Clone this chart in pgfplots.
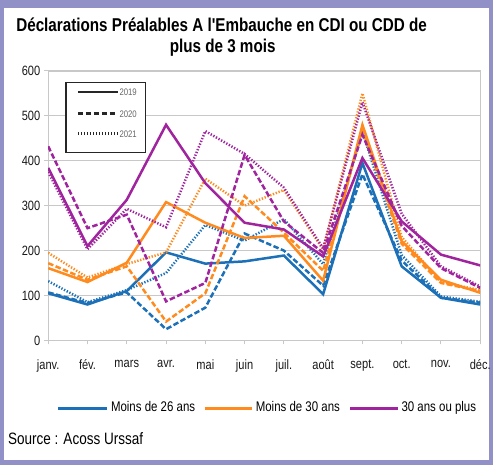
\documentclass[border=0pt]{standalone}
\usepackage{pgfplots}
\usepackage{pgfplotstable}
\pgfplotsset{compat=1.18}
\usepackage{fontspec}
\setmainfont{Liberation Sans}[FakeStretch=0.82, Ligatures=TeXOff]
\definecolor{cblue}{RGB}{28,112,184}
\definecolor{corange}{RGB}{255,138,30}
\definecolor{cpurple}{RGB}{160,36,158}
\definecolor{framec}{RGB}{145,145,200}
\definecolor{gridc}{RGB}{200,200,200}

\pgfplotstableread{
m b19 b20 b21 o19 o20 o21 p19 p20 p21
0 105 107 132 161 172 195 384 432 375
1 80 83 85 130 135 140 210 250 203
2 110 107 112 173 165 170 313 280 293
3 196 25 150 308 42 196 480 87 252
4 171 73 257 262 105 360 350 128 466
5 176 238 222 228 321 300 262 413 415
6 189 200 270 233 240 335 247 265 340
7 103 122 170 133 155 202 187 195 205
8 395 370 465 480 470 550 406 458 530
9 165 178 190 221 215 230 265 255 282
10 95 95 98 135 128 130 191 161 165
11 80 84 86 106 110 112 167 117 120
}\data

\begin{document}
\begin{tikzpicture}[x=1bp,y=1bp]
\fill[framec] (0,0) rectangle (494,466);
\fill[white] (4,5) rectangle (490,458);
\node[anchor=base,inner sep=0] at (222,434) {\fontsize{18.6bp}{21bp}\selectfont\bfseries Déclarations Préalables A l'Embauche en CDI ou CDD de};
\node[anchor=base,inner sep=0] at (223,413) {\fontsize{18.6bp}{21bp}\selectfont\bfseries plus de 3 mois};
\begin{axis}[
  at={(48.3bp,125bp)}, anchor=south west,
  width=432.7bp, height=270bp, scale only axis,
  xmin=0, xmax=11, ymin=0, ymax=600,
  xtick={0,...,11},
  xticklabels={janv.,fév.,mars,avr.,mai,juin,juil.,août,sept.,oct.,nov.,déc.},
  ytick={0,100,...,600},
  ymajorgrids,
  grid style={gridc, line width=1.3bp},
  axis line style={gridc, line width=1.3bp},
  tick style={gridc, line width=1bp},
  tick align=outside, major tick length=4bp,
  xtick pos=lower, ytick pos=left,
  /pgf/number format/assume math mode=true,
  ticklabel style={font=\fontsize{13.5bp}{15bp}\selectfont, text=black!90},
  yticklabel style={xshift=-0.5bp},
  xticklabel style={yshift=-12bp},
  every axis plot/.append style={line width=2.5bp},
]
\addplot[cblue, dash pattern=on 1.3bp off 1.7bp] table[x=m,y=b21] {\data};
\addplot[cblue, dash pattern=on 5.5bp off 2.5bp] table[x=m,y=b20] {\data};
\addplot[cblue] table[x=m,y=b19] {\data};
\addplot[corange, dash pattern=on 1.3bp off 1.7bp] table[x=m,y=o21] {\data};
\addplot[corange, dash pattern=on 5.5bp off 2.5bp] table[x=m,y=o20] {\data};
\addplot[corange] table[x=m,y=o19] {\data};
\addplot[cpurple, dash pattern=on 1.3bp off 1.7bp] table[x=m,y=p21] {\data};
\addplot[cpurple, dash pattern=on 5.5bp off 2.5bp] table[x=m,y=p20] {\data};
\addplot[cpurple] table[x=m,y=p19] {\data};
\end{axis}
% year legend
\draw[fill=white, draw=black!85, line width=1.4bp] (66,313.3) rectangle (146,383.3);
\draw[black!85, line width=2.7bp] (78,373.7) -- (118,373.7);
\draw[black!85, line width=2.7bp, dash pattern=on 5.5bp off 2.5bp] (78,352) -- (118,352);
\draw[black!85, line width=2.7bp, dash pattern=on 1.3bp off 1.7bp] (78,332) -- (118,332);
\node[anchor=west, inner sep=0, text=black!60, font=\fontsize{9.5bp}{11bp}\selectfont] at (119.5,373.7) {2019};
\node[anchor=west, inner sep=0, text=black!60, font=\fontsize{9.5bp}{11bp}\selectfont] at (119.5,352) {2020};
\node[anchor=west, inner sep=0, text=black!60, font=\fontsize{9.5bp}{11bp}\selectfont] at (119.5,332) {2021};
% series legend
\draw[cblue, line width=3bp] (58,57) -- (107,57);
\node[anchor=base west, inner sep=0, font=\fontsize{14bp}{16bp}\selectfont] at (111,53.5) {Moins de 26 ans};
\draw[corange, line width=3bp] (205,57) -- (252,57);
\node[anchor=base west, inner sep=0, font=\fontsize{14bp}{16bp}\selectfont] at (256,53.5) {Moins de 30 ans};
\draw[cpurple, line width=3bp] (351,57) -- (399,57);
\node[anchor=base west, inner sep=0, font=\fontsize{14bp}{16bp}\selectfont] at (402,53.5) {30 ans ou plus};
\node[anchor=base west, inner sep=0, font=\fontsize{16.5bp}{18bp}\selectfont] at (8,21) {Source : Acoss Urssaf};
\end{tikzpicture}
\end{document}
